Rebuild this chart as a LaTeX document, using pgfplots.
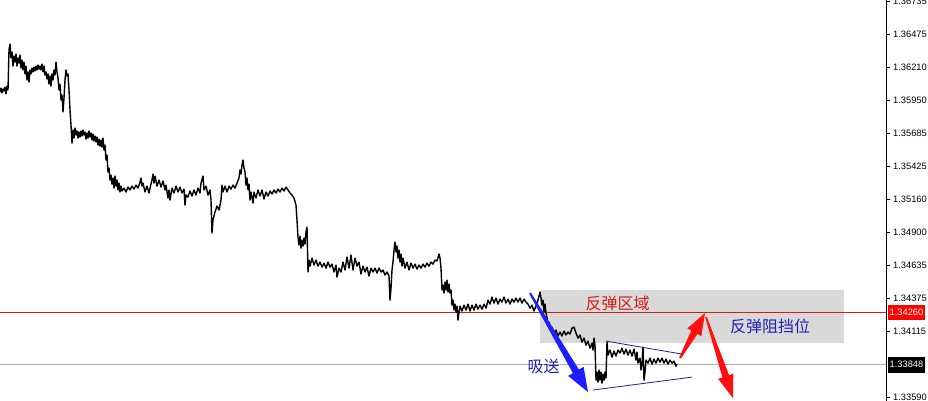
\documentclass[border=0pt]{standalone}
\usepackage{fontspec}
\setmainfont{Liberation Sans}
\newfontfamily\cjk{Noto Sans CJK SC}
\usepackage{pgfplots}
\usepackage{pgfplotstable}
\pgfplotsset{compat=1.18}
\usetikzlibrary{calc}

\definecolor{zoneGray}{RGB}{217,217,217}
\definecolor{levelRed}{RGB}{215,25,25}
\definecolor{labelRed}{RGB}{255,0,0}
\definecolor{levelGray}{RGB}{175,175,175}
\definecolor{noteBlue}{RGB}{32,32,180}
\definecolor{trendBlue}{RGB}{30,30,150}
\definecolor{arrowBlue}{RGB}{30,30,255}
\definecolor{arrowRed}{RGB}{255,15,15}

% tapered arrow: start, tip, colour, tail half-width, neck half-width, head half-width, head length
\newcommand\taperarrow[7]{%
  \coordinate (ta-h) at ($(#2)!#7!(#1)$);
  \fill[#3] ($(#1)!#4!90:(#2)$) -- ($(ta-h)!#5!90:(#2)$) -- ($(ta-h)!#6!90:(#2)$)
    -- (#2) -- ($(ta-h)!#6!-90:(#2)$) -- ($(ta-h)!#5!-90:(#2)$) -- ($(#1)!#4!-90:(#2)$) -- cycle;
}

% bar index, price
\pgfplotstableread{
x y
0 1.36014
1 1.36045
2 1.36006
3 1.36037
4 1.36022
5 1.36053
6 1.35998
7 1.36061
8 1.36030
9 1.36348
10 1.36395
11 1.36284
12 1.36332
13 1.36220
14 1.36300
15 1.36252
16 1.36316
17 1.36220
18 1.36284
19 1.36244
20 1.36308
21 1.36204
22 1.36268
23 1.36189
24 1.36252
25 1.36157
26 1.36220
27 1.36109
28 1.36173
29 1.36093
30 1.36189
31 1.36157
32 1.36204
33 1.36173
34 1.36212
35 1.36181
36 1.36220
37 1.36189
38 1.36228
39 1.36196
40 1.36220
41 1.36189
42 1.36236
43 1.36173
44 1.36220
45 1.36149
46 1.36173
47 1.36117
48 1.36157
49 1.36077
50 1.36141
51 1.36061
52 1.36157
53 1.36109
54 1.36189
55 1.36149
56 1.36252
57 1.36173
58 1.36125
59 1.36030
60 1.36077
61 1.35950
62 1.35990
63 1.35855
64 1.35966
65 1.36109
66 1.36189
67 1.36141
68 1.36157
69 1.36030
70 1.35871
71 1.35751
72 1.35608
73 1.35712
74 1.35648
75 1.35727
76 1.35672
77 1.35704
78 1.35648
79 1.35696
80 1.35656
81 1.35704
82 1.35664
83 1.35712
84 1.35672
85 1.35696
86 1.35640
87 1.35688
88 1.35648
89 1.35704
90 1.35656
91 1.35688
92 1.35632
93 1.35680
94 1.35624
95 1.35664
96 1.35616
97 1.35656
98 1.35592
99 1.35640
100 1.35584
101 1.35632
102 1.35576
103 1.35648
104 1.35553
105 1.35592
106 1.35473
107 1.35513
108 1.35378
109 1.35409
110 1.35314
111 1.35354
112 1.35282
113 1.35330
114 1.35250
115 1.35346
116 1.35266
117 1.35314
118 1.35235
119 1.35290
120 1.35219
121 1.35266
122 1.35227
124 1.35250
126 1.35219
128 1.35258
130 1.35235
132 1.35266
134 1.35242
136 1.35274
138 1.35250
140 1.35298
141 1.35330
142 1.35266
143 1.35290
145 1.35219
147 1.35266
149 1.35211
150 1.35250
152 1.35314
153 1.35362
154 1.35290
155 1.35346
157 1.35266
159 1.35314
161 1.35258
163 1.35306
165 1.35235
166 1.35274
168 1.35171
169 1.35235
170 1.35155
172 1.35250
174 1.35211
176 1.35266
178 1.35219
180 1.35258
182 1.35211
184 1.35242
185 1.35115
186 1.35195
188 1.35179
190 1.35227
192 1.35187
194 1.35235
196 1.35195
198 1.35250
200 1.35211
201 1.35290
203 1.35346
204 1.35235
206 1.35266
208 1.35195
210 1.35235
211 1.35155
212 1.34893
213 1.34996
215 1.35060
217 1.35107
219 1.35076
221 1.35155
222 1.35274
223 1.35219
225 1.35266
227 1.35219
229 1.35266
231 1.35242
233 1.35274
235 1.35250
237 1.35290
239 1.35330
240 1.35394
241 1.35362
242 1.35433
243 1.35473
244 1.35409
245 1.35378
246 1.35274
247 1.35330
248 1.35235
249 1.35282
250 1.35155
251 1.35219
253 1.35131
254 1.35219
256 1.35171
258 1.35235
260 1.35187
262 1.35235
264 1.35163
266 1.35219
268 1.35187
270 1.35227
272 1.35203
274 1.35235
276 1.35211
278 1.35242
280 1.35219
282 1.35250
284 1.35227
286 1.35258
288 1.35235
290 1.35211
292 1.35195
294 1.35171
296 1.35115
297 1.34996
298 1.34861
299 1.34797
300 1.34869
301 1.34773
302 1.34837
303 1.34789
304 1.34853
305 1.34805
306 1.34901
307 1.34940
308 1.34583
309 1.34678
310 1.34630
312 1.34694
314 1.34638
316 1.34678
318 1.34630
320 1.34662
322 1.34622
324 1.34654
326 1.34614
328 1.34662
330 1.34622
332 1.34646
334 1.34583
336 1.34638
337 1.34543
339 1.34614
341 1.34583
343 1.34662
345 1.34599
347 1.34702
349 1.34614
351 1.34718
353 1.34599
355 1.34694
357 1.34630
359 1.34662
361 1.34567
363 1.34630
365 1.34583
367 1.34622
369 1.34551
371 1.34614
373 1.34583
375 1.34614
377 1.34575
379 1.34614
381 1.34583
383 1.34599
385 1.34559
387 1.34583
389 1.34551
390 1.34360
391 1.34455
392 1.34599
393 1.34662
394 1.34758
395 1.34821
396 1.34742
397 1.34789
398 1.34694
399 1.34758
400 1.34662
401 1.34726
402 1.34630
403 1.34694
405 1.34614
407 1.34662
409 1.34599
411 1.34654
413 1.34614
415 1.34646
417 1.34606
419 1.34638
421 1.34614
423 1.34646
425 1.34622
427 1.34654
429 1.34630
431 1.34662
433 1.34646
435 1.34678
437 1.34670
439 1.34726
440 1.34694
441 1.34614
442 1.34440
443 1.34479
444 1.34416
445 1.34503
446 1.34440
447 1.34519
448 1.34424
449 1.34487
450 1.34416
451 1.34440
452 1.34320
453 1.34360
454 1.34281
455 1.34328
456 1.34265
457 1.34312
458 1.34201
459 1.34265
460 1.34312
462 1.34273
464 1.34320
466 1.34281
468 1.34328
470 1.34273
472 1.34320
474 1.34281
476 1.34328
478 1.34288
480 1.34320
482 1.34288
484 1.34328
486 1.34296
488 1.34360
490 1.34328
492 1.34384
494 1.34336
496 1.34376
498 1.34328
500 1.34368
502 1.34344
504 1.34384
506 1.34336
508 1.34368
510 1.34328
512 1.34368
514 1.34344
516 1.34376
518 1.34344
520 1.34376
522 1.34336
524 1.34368
526 1.34344
528 1.34328
530 1.34296
532 1.34320
534 1.34273
536 1.34312
538 1.34360
540 1.34424
541 1.34376
542 1.34320
543 1.34360
544 1.34265
545 1.34328
546 1.34257
547 1.34217
548 1.34153
549 1.34185
550 1.34122
552 1.34145
554 1.34090
556 1.34122
558 1.34074
560 1.34106
562 1.34074
564 1.34114
566 1.34082
568 1.34106
570 1.34090
572 1.34137
574 1.34145
576 1.34098
578 1.34058
580 1.34082
582 1.34026
584 1.34058
586 1.34002
588 1.34034
590 1.33978
592 1.34018
593 1.33963
594 1.34058
595 1.34002
596 1.33724
597 1.33788
598 1.33708
599 1.33804
600 1.33724
601 1.33788
602 1.33700
603 1.33772
604 1.33724
605 1.33788
606 1.33740
607 1.34026
608 1.33923
610 1.33963
612 1.33907
614 1.33955
616 1.33915
618 1.33963
620 1.33939
622 1.33978
624 1.33931
626 1.33970
628 1.33923
630 1.33963
632 1.33915
634 1.33970
636 1.33883
637 1.33947
638 1.33859
640 1.33899
641 1.33804
642 1.33851
643 1.33986
644 1.33724
645 1.33788
646 1.33883
648 1.33859
650 1.33899
652 1.33851
654 1.33891
656 1.33859
658 1.33899
660 1.33867
662 1.33899
664 1.33859
666 1.33891
668 1.33851
670 1.33883
672 1.33859
674 1.33875
676 1.33835
677 1.33851
}\pricedata

\begin{document}
\begin{tikzpicture}
\begin{axis}[
  at={(0pt,0pt)}, anchor=south west,
  scale only axis, width=886pt, height=401pt,
  xmin=0, xmax=886, ymin=1.33558, ymax=1.36745,
  clip=false,
  hide x axis,
  axis y line*=right,
  y axis line style={black, line width=0.8pt},
  ytick pos=right, yticklabel pos=right,
  tick align=outside,
  major tick length=4pt,
  ytick style={black, line width=0.6pt},
  scaled y ticks=false,
  ytick={1.36735,1.36475,1.36210,1.35950,1.35685,1.35425,1.35160,1.34900,1.34635,1.34375,1.34115,1.33590},
  yticklabels={1.36735,1.36475,1.36210,1.35950,1.35685,1.35425,1.35160,1.34900,1.34635,1.34375,1.34115,1.33590},
  yticklabel style={font=\fontsize{9.3}{10}\selectfont, anchor=west, inner sep=0pt, xshift=3pt},
]
% rebound zone
\fill[zoneGray] (axis cs:540,1.34440) rectangle (axis cs:844,1.34018);
% horizontal levels
\draw[levelRed, line width=0.8pt] (axis cs:0,1.34260) -- (axis cs:886,1.34260);
\draw[levelGray, line width=0.8pt] (axis cs:0,1.33848) -- (axis cs:886,1.33848);

% price series
\addplot[black, line width=1.4pt, line join=round, no marks] table[x=x, y=y] {\pricedata};

% converging triangle
\draw[trendBlue, line width=0.8pt] (axis cs:606,1.34034) -- (axis cs:682,1.33931);
\draw[trendBlue, line width=0.8pt] (axis cs:593,1.33645) -- (axis cs:692,1.33748);

% arrows
\coordinate (b0) at (axis cs:530,1.34416);
\coordinate (b1) at (axis cs:588,1.33629);
\taperarrow{b0}{b1}{arrowBlue}{1pt}{3.5pt}{9pt}{24pt}
\coordinate (r0) at (axis cs:680,1.33899);
\coordinate (r1) at (axis cs:705,1.34257);
\taperarrow{r0}{r1}{arrowRed}{1pt}{3.5pt}{8pt}{22pt}
\coordinate (s0) at (axis cs:706,1.34225);
\coordinate (s1) at (axis cs:733,1.33581);
\taperarrow{s0}{s1}{arrowRed}{0.8pt}{3.5pt}{8pt}{23pt}

% notes
\node[text=levelRed, font=\cjk\fontsize{16}{16}\selectfont, inner sep=0pt] at (axis cs:617.5,1.34336) {反弹区域};
\node[text=noteBlue, font=\cjk\fontsize{16}{16}\selectfont, inner sep=0pt] at (axis cs:770,1.34153) {反弹阻挡位};
\node[text=noteBlue, font=\cjk\fontsize{16}{16}\selectfont, inner sep=0pt] at (axis cs:543.5,1.33831) {吸送};

% price tags on the scale
\node[fill=labelRed, text=white, anchor=west, inner xsep=1.5pt, inner ysep=0pt, minimum height=15pt, font=\fontsize{9.3}{10}\selectfont] at (axis cs:888,1.34260) {1.34260};
\node[fill=black, text=white, anchor=west, inner xsep=1.5pt, inner ysep=0pt, minimum height=16pt, font=\fontsize{9.3}{10}\selectfont] at (axis cs:888,1.33848) {1.33848};
\end{axis}
\pgfresetboundingbox
\useasboundingbox (0,0) rectangle (928pt,401pt);
\end{tikzpicture}
\end{document}
